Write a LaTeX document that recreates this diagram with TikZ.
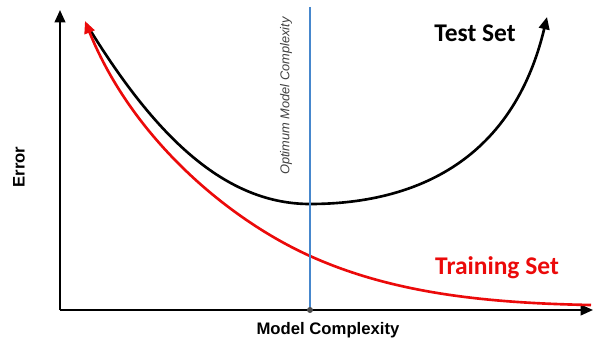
\documentclass[tikz,border=0pt]{standalone}
\usepackage{fontspec}
\setmainfont{Liberation Sans}
\newfontfamily\calibrifont{Carlito}
\usepackage{tikz}
\usetikzlibrary{arrows.meta,positioning}
\definecolor{optblue}{RGB}{70,135,205}
\definecolor{trainred}{RGB}{235,10,10}

\begin{document}
\begin{tikzpicture}[
        x=0.02cm, y=-0.02cm,
        axis/.style={draw, line width=1.2pt, -{Triangle[length=7pt,width=6pt]}},
        curve/.style={line width=1.5pt, -{Triangle[length=7pt,width=6pt]}},
        lab/.style={font=\bfseries\fontsize{9.5}{10}\selectfont, inner sep=0pt},
        setlab/.style={font=\calibrifont\bfseries\fontsize{14.5}{15}\selectfont, inner sep=0pt}
    ]
        \useasboundingbox (0,0) rectangle (594,341);

        \coordinate (origin) at (60,310);
        \coordinate (ytop) at (60,10);
        \coordinate (xend) at (593,310);
        \coordinate (opttop) at (310,7);
        \coordinate (optbot) at (310,310);
        \coordinate (testmin) at (310,204);
        \coordinate (trainmid) at (310,256);

        \draw[axis] (origin) -- (ytop);
        \draw[axis] (origin) -- (xend);

        \draw[curve] (87,25) .. controls (150,128) and (220,204) .. (testmin)
            .. controls (400,204) and (510,172) .. (547,17);
        \draw[curve, trainred] (591,305) .. controls (480,303) and (390,292) .. (trainmid)
            .. controls (230,220) and (133,140) .. (85,21);

        \draw[optblue, line width=1.2pt] (opttop) -- (optbot);
        \fill[gray!60!black] (optbot) circle (3);

        \node[lab, rotate=90] (err) at (19,167) {Error};
        \node[lab] (mc) at (328,330) {Model Complexity};
        \node[font=\itshape\fontsize{7.3}{8}\selectfont, text=black!75, inner sep=0pt, rotate=90] (optlab) at (286,96) {Optimum Model Complexity};
        \node[setlab] (test) at (475,33) {Test Set};
        \node[setlab, text=trainred] (train) at (497,268) {Training Set};
    \end{tikzpicture}
\end{document}
